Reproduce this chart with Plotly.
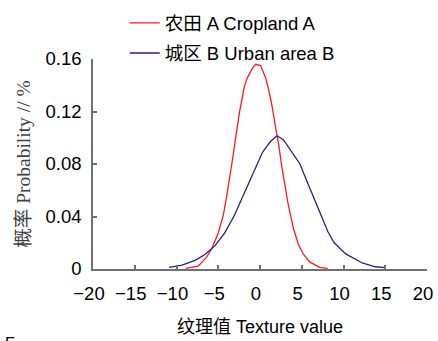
import plotly.graph_objects as go

# Cropland A (red) curve
crop_x = [-8.9, -7.4, -6.4, -5.8, -5.0, -4.4, -4.05, -3.65, -3.26, -2.87, -2.47, -1.88, -1.49, -0.9, -0.52,
          0.07, 0.66, 1.06, 1.45, 1.84, 2.24, 2.62, 3.01, 3.41, 4.0, 4.59, 5.18, 5.95, 7.13, 8.1]
crop_y = [0.0005, 0.0022, 0.009, 0.0152, 0.0274, 0.0409, 0.0531, 0.0678, 0.0849, 0.102, 0.119, 0.139, 0.146, 0.153, 0.156,
          0.155, 0.146, 0.136, 0.124, 0.109, 0.0947, 0.0776, 0.0629, 0.0482, 0.031, 0.0189, 0.0115, 0.0054, 0.0012, 0.0005]

# Urban area B (blue) curve
urban_x = [-10.9, -9.34, -7.77, -6.59, -5.41, -4.24, -3.06, -1.88, -0.71, 0.27, 1.25, 2.04, 2.82, 3.6, 4.78,
           5.56, 6.35, 7.13, 8.12, 8.89, 10.27, 12.24, 13.8, 15.0]
urban_y = [0.0012, 0.0029, 0.0066, 0.011, 0.0176, 0.0274, 0.0409, 0.058, 0.0751, 0.0886, 0.0971, 0.1015, 0.0983, 0.091, 0.080,
           0.0678, 0.0556, 0.0433, 0.0286, 0.020, 0.0115, 0.0046, 0.0017, 0.001]

x_ticks = [-20, -15, -10, -5, 0, 5, 10, 15, 20]
x_ticklabels = ["\u221220", "\u221215", "\u221210", "\u22125", "0", "5", "10", "15", "20"]
y_ticks = [0, 0.04, 0.08, 0.12, 0.16]
y_ticklabels = ["0", "0.04", "0.08", "0.12", "0.16"]

names = ["农田 A Cropland A", "城区 B Urban area B"]

SANS = "Liberation Sans, Arial, Noto Sans CJK SC, sans-serif"
SERIF = "Liberation Serif, Times New Roman, Noto Sans CJK SC, serif"

fig = go.Figure()
fig.add_trace(go.Scatter(x=crop_x, y=crop_y, mode="lines", name=names[0], legendgroup="a",
                         line=dict(color="#ff1a1a", width=1.3)))
fig.add_trace(go.Scatter(x=urban_x, y=urban_y, mode="lines", name=names[1], legendgroup="b",
                         line=dict(color="#22228a", width=1.3)))

axis_common = dict(showgrid=False, zeroline=False, showline=True, linecolor="#707070", linewidth=1.5,
                   ticks="inside", ticklen=4, tickcolor="#707070", tickwidth=1.5,
                   tickfont=dict(family=SANS, size=18.5, color="#000000"))

fig.update_xaxes(range=[-20, 20], tickvals=x_ticks, ticktext=x_ticklabels,
                 ticklabelstandoff=7, ticklabelshift=-4, ticklabeloverflow="allow",
                 title=dict(text="纹理值 Texture value", font=dict(family=SANS, size=18, color="#000000"), standoff=17),
                 **axis_common)
fig.update_yaxes(range=[0, 0.16], tickvals=y_ticks, ticktext=y_ticklabels,
                 ticklabelstandoff=6,
                 title=dict(text="概率 Probability // %", font=dict(family=SERIF, size=19.5, color="#404040"), standoff=10),
                 **axis_common)

fig.add_annotation(text="F", xref="paper", yref="paper", x=-0.27, y=-0.305, xanchor="left", yanchor="top",
                   showarrow=False, font=dict(family=SANS, size=16, color="#000000"))

fig.update_layout(
    width=438, height=341,
    margin=dict(l=93, r=5, t=51, b=72),
    plot_bgcolor="white", paper_bgcolor="white",
    showlegend=True,
    legend=dict(x=0.095, y=1.26, xanchor="left", yanchor="top", bgcolor="rgba(0,0,0,0)",
                traceorder="grouped", tracegroupgap=3,
                font=dict(family=SANS, size=18.5, color="#000000"), itemwidth=30),
)

fig.write_html("out.html")
